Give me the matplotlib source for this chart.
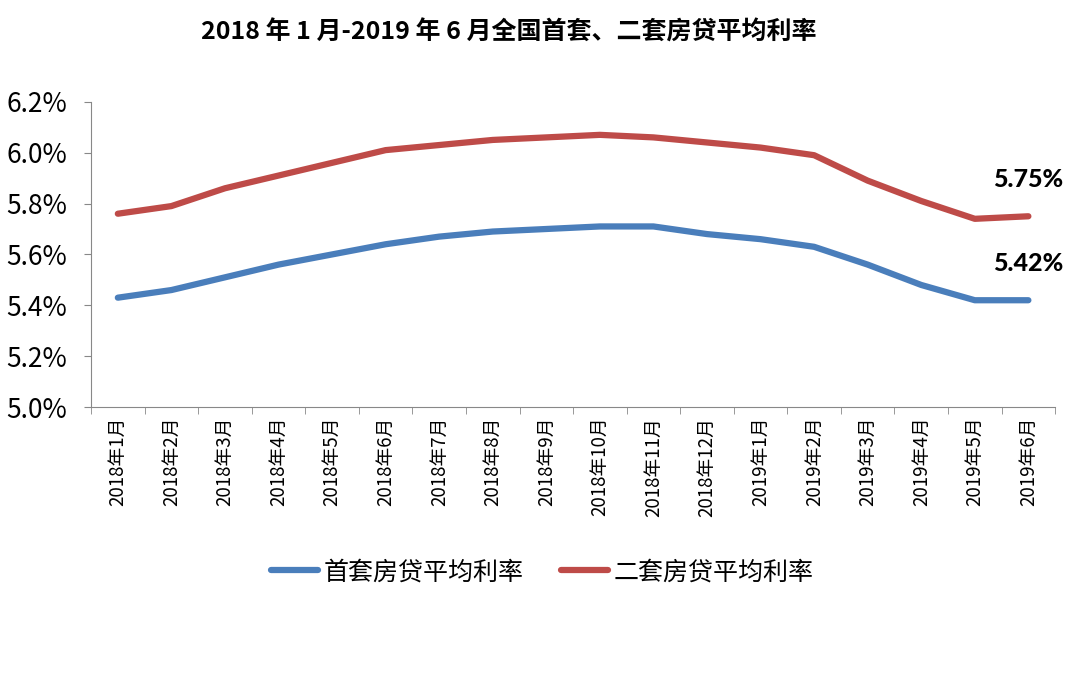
import matplotlib
matplotlib.use("Agg")
import matplotlib.pyplot as plt
import numpy as np
from matplotlib.ticker import FuncFormatter, MultipleLocator

plt.rcParams['font.family'] = ['Noto Sans CJK SC', 'DejaVu Sans']

months = ["2018年1月", "2018年2月", "2018年3月", "2018年4月", "2018年5月", "2018年6月",
          "2018年7月", "2018年8月", "2018年9月", "2018年10月", "2018年11月", "2018年12月",
          "2019年1月", "2019年2月", "2019年3月", "2019年4月", "2019年5月", "2019年6月"]
first_home = [5.43, 5.46, 5.51, 5.56, 5.60, 5.64, 5.67, 5.69, 5.70, 5.71, 5.71, 5.68,
              5.66, 5.63, 5.56, 5.48, 5.42, 5.42]
second_home = [5.76, 5.79, 5.86, 5.91, 5.96, 6.01, 6.03, 6.05, 6.06, 6.07, 6.06, 6.04,
               6.02, 5.99, 5.89, 5.81, 5.74, 5.75]
series_names = ["首套房贷平均利率", "二套房贷平均利率"]
title = "2018 年 1 月-2019 年 6 月全国首套、二套房贷平均利率"
end_labels = ["5.75%", "5.42%"]

blue = "#4A7EBB"
red = "#BE4B48"

fig = plt.figure(figsize=(10.8, 6.74), dpi=100)
ax = fig.add_axes([0.0843, 0.396, 0.8927, 0.453])

x = np.arange(len(months))
ax.plot(x, first_home, color=blue, lw=4.5, solid_capstyle='round', label=series_names[0])
ax.plot(x, second_home, color=red, lw=4.5, solid_capstyle='round', label=series_names[1])

ax.set_xlim(-0.5, len(months) - 0.5)
ax.set_ylim(5.0, 6.2)
ax.yaxis.set_major_locator(MultipleLocator(0.2))
ax.yaxis.set_major_formatter(FuncFormatter(lambda v, p: f"{v:.1f}%"))
ax.tick_params(axis='y', labelsize=19, length=5, color='#888888', pad=12)

ax.set_xticks(x)
ax.set_xticklabels(months, rotation=90, fontsize=13.5)
ax.set_xticks(np.arange(-0.5, len(months), 1), minor=True)
ax.tick_params(axis='x', which='major', length=0, pad=7)
ax.tick_params(axis='x', which='minor', length=5, color='#888888')

for s in ['top', 'right']:
    ax.spines[s].set_visible(False)
for s in ['left', 'bottom']:
    ax.spines[s].set_color('#888888')

ax.text(len(months) - 1, second_home[-1] + 0.1, end_labels[0], fontsize=18,
        fontweight='black', ha='center', va='bottom', family=['Lato', 'DejaVu Sans'])
ax.text(len(months) - 1, first_home[-1] + 0.1, end_labels[1], fontsize=18,
        fontweight='black', ha='center', va='bottom', family=['Lato', 'DejaVu Sans'])

fig.text(0.471, 0.951, title, fontsize=18, fontweight='bold', ha='center', va='center')

fig.legend(loc='center', bbox_to_anchor=(0.502, 0.151), ncol=2, frameon=False,
           fontsize=18, handlelength=1.9, columnspacing=1.5, handletextpad=0.2)

fig.savefig("out.png", dpi=100, facecolor='white')
